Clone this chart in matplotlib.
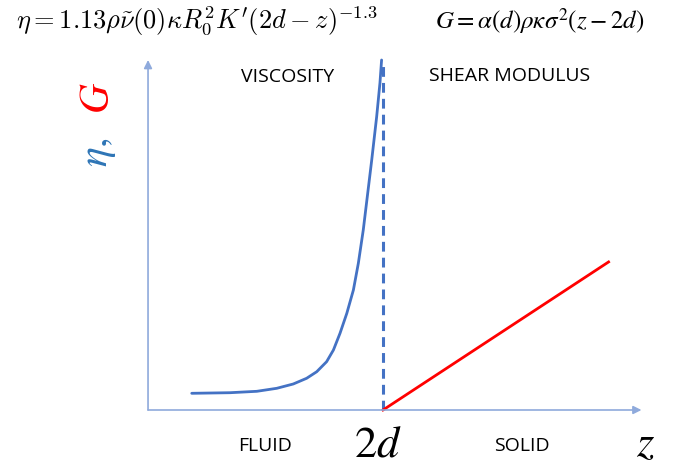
import matplotlib.pyplot as plt

plt.rcParams['mathtext.fontset'] = 'cm'

# viscosity branch (z in units of 2d = 1, arbitrary vertical units)
z_eta = [0.186, 0.349, 0.463, 0.548, 0.618, 0.675, 0.718, 0.760, 0.789, 0.817,
         0.846, 0.874, 0.895, 0.916, 0.952, 0.973, 0.987, 0.994]
eta = [0.477, 0.494, 0.534, 0.620, 0.743, 0.906, 1.094, 1.380, 1.714, 2.191,
       2.763, 3.429, 4.191, 5.143, 7.143, 8.380, 9.343, 10.0]

# shear modulus branch
z_g = [1.0, 1.96]
g = [0.0, 4.23]

z_crit = 1.0
dash_top = 9.94
x_end = 2.1
y_end = 10.0

W, H = 688, 466
fig = plt.figure(figsize=(W / 100, H / 100), dpi=100)
ax = fig.add_axes([0, 0, 1, 1])
ax.set_xlim(-0.630, 2.298)
ax.set_ylim(-1.6, 11.714)
ax.set_axis_off()

blue = '#4472C4'
axis_col = '#8FAADC'

# axes arrows
arr = dict(arrowstyle='-|>', color=axis_col, lw=1.2, mutation_scale=12, shrinkA=0, shrinkB=0)
ax.annotate('', xy=(x_end, 0), xytext=(0, 0), arrowprops=arr)
ax.annotate('', xy=(0, y_end), xytext=(0, 0), arrowprops=arr)

ax.plot(z_eta, eta, color=blue, lw=2, solid_capstyle='round')
ax.plot([z_crit, z_crit], [0, dash_top], color=blue, lw=2.2, ls=(0, (3.2, 2)))
ax.plot(z_g, g, color='#FF0000', lw=2)


def fx(px):
    return px / W


def fy(py):
    return 1 - py / H


fig.text(fx(197), fy(21), r'$\eta = 1.13\rho\tilde{\nu}(0)\kappa R_0^2 K^\prime(2d-z)^{-1.3}$',
         fontsize=19, ha='center', va='center')
fig.text(fx(540), fy(21), r'$G = \alpha(d)\rho\kappa\sigma^2(z-2d)$',
         fontsize=18, ha='center', va='center', math_fontfamily='stix')

txt = dict(family='Open Sans', fontsize=14, va='center', ha='center')
fig.text(fx(288), fy(77), 'VISCOSITY', **txt)
fig.text(fx(510), fy(76), 'SHEAR MODULUS', **txt)
fig.text(fx(265), fy(446), 'FLUID', **txt)
fig.text(fx(522), fy(446), 'SOLID', **txt)

fig.text(fx(378), fy(444), r'$2d$', fontsize=32, ha='center', va='center',
         math_fontfamily='stix')
fig.text(fx(645), fy(456), r'$z$', fontsize=32, ha='center', va='baseline',
         math_fontfamily='stix')

fig.text(fx(97), fy(152), r'$\eta,$', fontsize=30, color='#2E75B6', rotation=90,
         ha='center', va='center', math_fontfamily='stix')
fig.text(fx(97), fy(98), r'$G$', fontsize=30, color='#FF0000', rotation=90,
         ha='center', va='center', math_fontfamily='stix')

fig.savefig('out.png', dpi=100)
